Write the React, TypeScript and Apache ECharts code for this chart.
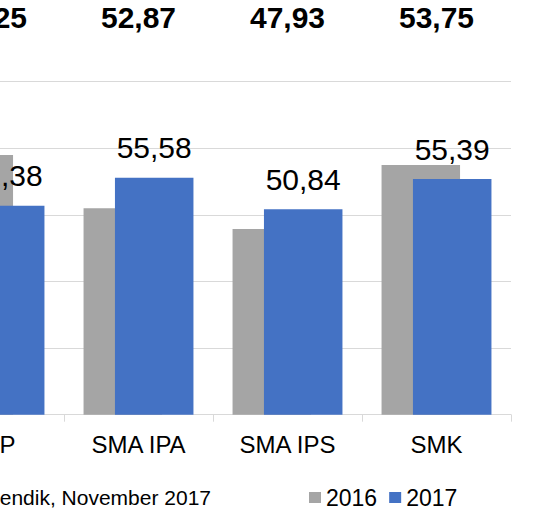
import React, { useEffect, useRef } from "react";
import * as echarts from "echarts";

const categories = ["SMP", "SMA IPA", "SMA IPS", "SMK"];
const topNumbers = ["54,25", "52,87", "47,93", "53,75"];
const values2016 = [59.0, 51.0, 47.9, 57.5];
const values2017 = [51.38, 55.58, 50.84, 55.39];
const sourceText = "Sumber: Puspendik, November 2017";

const FONT = "'Liberation Sans', Arial, sans-serif";
const SHIFT = 85;

export default function App() {
  const ref = useRef<HTMLDivElement>(null);
  useEffect(() => {
    document.body.style.margin = "0";
    const chart = echarts.init(ref.current!, undefined, { renderer: "svg" });
    chart.setOption({
      animation: false,
      textStyle: { fontFamily: FONT },
      grid: { left: 0, right: 29, top: 81.7, bottom: 509 - 414.7, containLabel: false },
      legend: {
        data: ["2016", "2017"],
        left: 304 + SHIFT,
        top: 481,
        itemWidth: 12,
        itemHeight: 11,
        itemGap: 12,
        icon: "rect",
        textStyle: { fontSize: 23, color: "#000", fontFamily: FONT },
      },
      xAxis: [
        {
          type: "category",
          data: categories,
          axisLine: { lineStyle: { color: "#d9d9d9", width: 1 } },
          axisTick: { show: true, length: 7, lineStyle: { color: "#d9d9d9" } },
          axisLabel: { fontSize: 24, color: "#000", margin: 18, fontFamily: FONT },
        },
        {
          type: "category",
          position: "top",
          data: topNumbers,
          axisLine: { show: false },
          axisTick: { show: false },
          axisLabel: { fontSize: 30, fontWeight: "bold", color: "#000", margin: 49, fontFamily: FONT },
        },
      ],
      yAxis: {
        type: "value",
        min: 20,
        max: 70,
        interval: 10,
        axisLabel: { show: false },
        axisLine: { show: false },
        axisTick: { show: false },
        splitLine: { lineStyle: { color: "#d9d9d9", width: 1 } },
      },
      series: [
        {
          name: "2016",
          type: "bar",
          data: values2016,
          barWidth: 78.5,
          barGap: "-60%",
          itemStyle: { color: "#a5a5a5" },
        },
        {
          name: "2017",
          type: "bar",
          data: values2017,
          barWidth: 78.5,
          barGap: "-60%",
          itemStyle: { color: "#4472c4" },
          label: {
            show: true,
            position: "top",
            distance: 15,
            fontSize: 30,
            color: "#000",
            fontFamily: FONT,
            formatter: (p: any) => p.value.toFixed(2).replace(".", ","),
          },
        },
      ],
      graphic: [
        {
          type: "text",
          x: 211 + SHIFT,
          y: 497,
          style: {
            text: sourceText,
            fontSize: 21,
            fontFamily: FONT,
            fill: "#000",
            align: "right",
            verticalAlign: "middle",
          },
        },
      ],
    });
    return () => chart.dispose();
  }, []);
  return (
    <div style={{ width: 540, height: 509, overflow: "hidden", position: "relative" }}>
      <div ref={ref} style={{ position: "absolute", left: -SHIFT, top: 0, width: 540 + SHIFT, height: 509 }} />
    </div>
  );
}
